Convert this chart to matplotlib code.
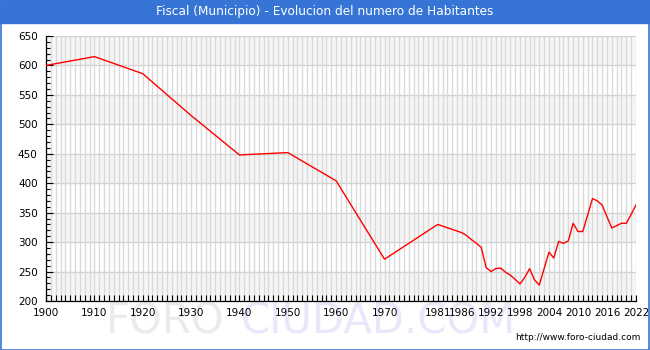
import matplotlib
matplotlib.use("Agg")
import matplotlib.pyplot as plt
from matplotlib.patches import Rectangle
from matplotlib.ticker import MultipleLocator

# habitantes por año
years = [1900, 1910, 1920, 1930, 1940, 1950, 1960, 1970, 1981, 1986,
         1987, 1988, 1989, 1990, 1991, 1992, 1993, 1994, 1995, 1996,
         1997, 1998, 1999, 2000, 2001, 2002, 2003, 2004, 2005, 2006,
         2007, 2008, 2009, 2010, 2011, 2012, 2013, 2014, 2015, 2016,
         2017, 2018, 2019, 2020, 2021, 2022]
habitantes = [600, 615, 586, 515, 448, 452, 404, 271, 330, 316,
              311, 304, 298, 291, 257, 250, 255, 256, 249, 244,
              237, 229, 240, 255, 236, 227, 255, 283, 273, 301,
              298, 302, 332, 318, 318, 346, 374, 370, 363, 343,
              324, 328, 332, 332, 347, 363]

xticks = [1900, 1910, 1920, 1930, 1940, 1950, 1960, 1970, 1981, 1986,
          1992, 1998, 2004, 2010, 2016, 2022]
yticks = [200, 250, 300, 350, 400, 450, 500, 550, 600, 650]

blue = "#3674d6"

fig = plt.figure(figsize=(6.5, 3.5), dpi=100)
ax = fig.add_axes([46 / 650, 1 - 301 / 350, 590 / 650, 265 / 350])

# bandas alternas de fondo
for i, y0 in enumerate(yticks[:-1]):
    if i % 2 == 0:
        ax.axhspan(y0, y0 + 50, color="#f6f6f6", zorder=0, lw=0)

for yr in range(1900, 2023):
    ax.axvline(yr, color="#dadada", lw=1.0, zorder=1)
for v in yticks:
    ax.axhline(v, color="#d4d4d4", lw=1.0, zorder=1)

ax.plot(years, habitantes, color="red", lw=1.0, zorder=3)

ax.set_xlim(1900, 2022)
ax.set_ylim(200, 650)
ax.set_xticks(xticks)
ax.set_yticks(yticks)
ax.xaxis.set_minor_locator(MultipleLocator(1))
ax.yaxis.set_minor_locator(MultipleLocator(10))
ax.tick_params(axis="both", which="both", direction="in", color="black",
               labelsize=7.5, width=0.8)
ax.tick_params(axis="x", which="major", length=4, pad=5)
ax.tick_params(axis="x", which="minor", length=4)
ax.tick_params(axis="y", which="major", length=5, pad=6)
ax.tick_params(axis="y", which="minor", length=3)
for s in ["top", "right"]:
    ax.spines[s].set_visible(False)
ax.spines["left"].set_linewidth(0.9)
ax.spines["bottom"].set_linewidth(0.9)

# barra de titulo y marco
fig.patches.append(Rectangle((0, 1 - 23 / 350), 1, 23 / 350,
                             transform=fig.transFigure, color=blue, zorder=0))
fig.patches.append(Rectangle((0.0008, 0.0014), 0.9984, 0.997, transform=fig.transFigure,
                             fill=False, edgecolor=blue, lw=1.2, zorder=5))
fig.text(0.5, 1 - 11.5 / 350, "Fiscal (Municipio) - Evolucion del numero de Habitantes",
         color="white", ha="center", va="center", fontsize=8.7)

# marca de agua
fig.text(0.345, 1 - 322 / 350, "FORO", color="#ebebeb", fontsize=30,
         ha="right", va="center", zorder=-1)
fig.text(0.37, 1 - 322 / 350, "CIUDAD.COM", color="#e8e8fa", fontsize=30,
         ha="left", va="center", zorder=-1)

fig.text(0.985, 1 - 338 / 350, "http://www.foro-ciudad.com", ha="right",
         va="center", fontsize=6.5)

fig.savefig("out.png", dpi=100)
